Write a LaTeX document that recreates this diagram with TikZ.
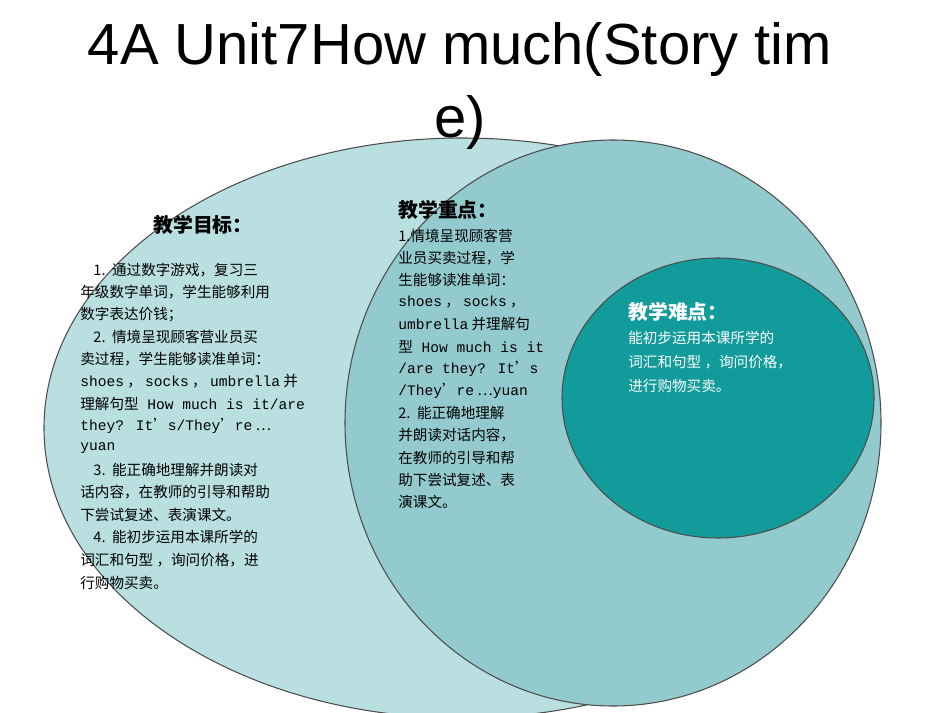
\documentclass[tikz,border=0pt]{standalone}
\usepackage{fontspec}
\setmainfont{Liberation Sans}
\newfontfamily\cjk{Noto Sans CJK SC}
\newfontfamily\mono{Liberation Mono}
\definecolor{big}{HTML}{B9DFE1}
\definecolor{mid}{HTML}{92CACE}
\definecolor{small}{HTML}{129B9B}
\begin{document}
\begin{tikzpicture}[x=0.02cm,y=-0.02cm,
  body/.style={anchor=west,inner sep=0pt,font=\cjk\fontsize{8.3}{10}\selectfont},
  head/.style={anchor=west,inner sep=0pt,font=\cjk\bfseries\fontsize{11.3}{13}\selectfont}]
\useasboundingbox (0,0) rectangle (950,713);
\begin{scope}
\clip (0,0) rectangle (950,713);
\draw[fill=big,draw=black!70,line width=0.6pt] (462,428) ellipse [x radius=418,y radius=290];
\draw[fill=mid,draw=black!70,line width=0.6pt] (613,423) ellipse [x radius=268,y radius=283];
\draw[fill=small,draw=black!70,line width=0.6pt] (718,398) ellipse [x radius=156,y radius=140];
\end{scope}
\node[font=\fontsize{33}{41}\selectfont,align=center,inner sep=0pt] (title) at (460,86) {4A Unit7How much(Story tim\\e)};
% left
\node[head] (lh) at (153,225) {教学目标：};
\foreach \t/\y [count=\i] in {{\ \ \ \ 1.\ \ 通过数字游戏，复习三}/270,{年级数字单词，学生能够利用}/292,{数字表达价钱；}/314,{\ \ \ \ 2.\ \ 情境呈现顾客营业员买}/337,{卖过程，学生能够读准单词：}/359,{{\mono shoes} ， {\mono socks} ， {\mono umbrella} 并}/381,{理解句型{\mono\ How much is it/are}}/404,{{\mono they? It}’{\mono s/They}’{\mono re} …}/426,{{\mono yuan}}/448,{\ \ \ \ 3.\ \ 能正确地理解并朗读对}/470,{话内容，在教师的引导和帮助}/492,{下尝试复述、表演课文。}/515,{\ \ \ \ 4.\ \ 能初步运用本课所学的}/537,{词汇和句型 ，询问价格，进}/560,{行购物买卖。}/583}
  \node[body] (l\i) at (80,\y) {\t};
% middle
\node[head] (mh) at (398,210) {教学重点：};
\foreach \t/\y [count=\i] in {{1.情境呈现顾客营}/236,{业员买卖过程，学}/258,{生能够读准单词：}/280,{{\mono shoes} ， {\mono socks} ，}/302,{{\mono umbrella} 并理解句}/324,{型{\mono\ How much is it}}/347,{{\mono /are they? It}’{\mono s}}/369,{{\mono /They}’{\mono re} …{\mono yuan}}/391,{2.\ \ 能正确地理解}/413,{并朗读对话内容，}/435,{在教师的引导和帮}/458,{助下尝试复述、表}/480,{演课文。}/502}
  \node[body] (m\i) at (398,\y) {\t};
% right
\node[head,text=white] (rh) at (628,312) {教学难点：};
\node[body,text=white] (r1) at (628,338) {能初步运用本课所学的};
\node[body,text=white] (r2) at (628,362) {词汇和句型 ，询问价格，};
\node[body,text=white] (r3) at (628,386) {进行购物买卖。};
\end{tikzpicture}
\end{document}
